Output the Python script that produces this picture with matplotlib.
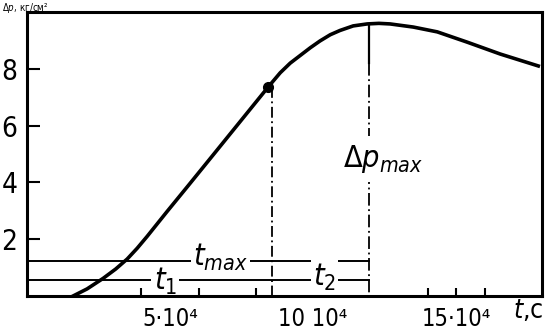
import matplotlib.pyplot as plt

# curve: t in 10^4 s, dp in units of the axis
t_curve = [1.61, 2.10, 2.66, 3.10, 3.50, 3.85, 4.20, 4.90, 5.63, 6.50, 7.69,
           8.43, 8.85, 9.20, 9.55, 9.90, 10.24, 10.60, 10.94, 11.40, 11.89,
           12.30, 12.69, 13.50, 14.34, 15.38, 16.54, 17.87]
p_curve = [0.0, 0.25, 0.62, 0.95, 1.30, 1.68, 2.10, 2.98, 3.88, 4.96, 6.44,
           7.36, 7.86, 8.20, 8.47, 8.74, 8.98, 9.20, 9.35, 9.51, 9.58,
           9.60, 9.58, 9.47, 9.30, 8.94, 8.52, 8.10]

t_point, p_point = 8.43, 7.36      # marked point (end of t1)
t_max, p_max = 11.95, 9.58         # maximum of the curve
level_tmax = 1.23                  # height of the t_max bar
level_t12 = 0.56                   # height of the t1 / t2 bar

y_ticks = [2, 4, 6, 8]
x_ticks = [4, 5, 6, 8, 10, 14, 15, 16]
x_labels = {5: '5·10⁴', 10: '10 10⁴', 15: '15·10⁴'}

plt.rcParams['font.family'] = ['DejaVu Sans']
plt.rcParams['font.stretch'] = 'condensed'
plt.rcParams['mathtext.fontset'] = 'dejavusans'

fig = plt.figure(figsize=(5.47, 3.34), dpi=100)
ax = fig.add_axes([27 / 547, 38 / 334, 515 / 547, 284 / 334])

ax.plot(t_curve, p_curve, color='black', lw=2.6, solid_joinstyle='round')
ax.plot([t_point], [p_point], 'o', color='black', ms=7)

# level bars
ax.plot([0, t_max], [level_tmax, level_tmax], color='black', lw=1.4)
ax.plot([0, t_max], [level_t12, level_t12], color='black', lw=1.4)

# verticals
ax.plot([t_point + 0.12, t_point + 0.12], [p_point, 0], color='black', lw=1.3,
        linestyle=(0, (6, 2, 1, 2)))
ax.plot([t_max, t_max], [p_max, 8.2], color='black', lw=1.6)
ax.plot([t_max, t_max], [8.2, 0], color='black', lw=1.3,
        linestyle=(0, (7, 2, 1, 2)))

box = dict(facecolor='white', edgecolor='none', pad=1.5)
ax.text(6.75, 1.37, r'$t_{max}$', fontsize=22, ha='center', va='center', bbox=box)
ax.text(4.83, 0.52, r'$t_{1}$', fontsize=22, ha='center', va='center', bbox=box)
ax.text(10.4, 0.66, r'$t_{2}$', fontsize=22, ha='center', va='center', bbox=box)
ax.text(12.45, 4.82, r'$\Delta p_{max}$', fontsize=22, ha='center', va='center',
        bbox=dict(facecolor='white', edgecolor='none', pad=5))

ax.set_xlim(0, 18)
ax.set_ylim(0, 10)
ax.set_yticks(y_ticks)
ax.set_yticklabels([str(v) for v in y_ticks])
ax.set_xticks(x_ticks)
ax.set_xticklabels([x_labels.get(v, '') for v in x_ticks])
ax.tick_params(axis='y', direction='in', length=9, width=1.5, labelsize=20, pad=7)
ax.tick_params(axis='x', direction='in', length=6, width=1.5, labelsize=17, pad=8)

for s in ax.spines.values():
    s.set_linewidth(2.2)
    s.set_zorder(5)

fig.text(528 / 547, 1 - 311 / 334, r'$t$,c', fontsize=19, ha='center', va='center')
# axis title, mostly lost at the top edge of the scan
fig.text(2 / 547, 1 - 1 / 334, r'$\Delta p$, кг/см²', fontsize=7, ha='left', va='top')

fig.savefig('out.png', dpi=100)
